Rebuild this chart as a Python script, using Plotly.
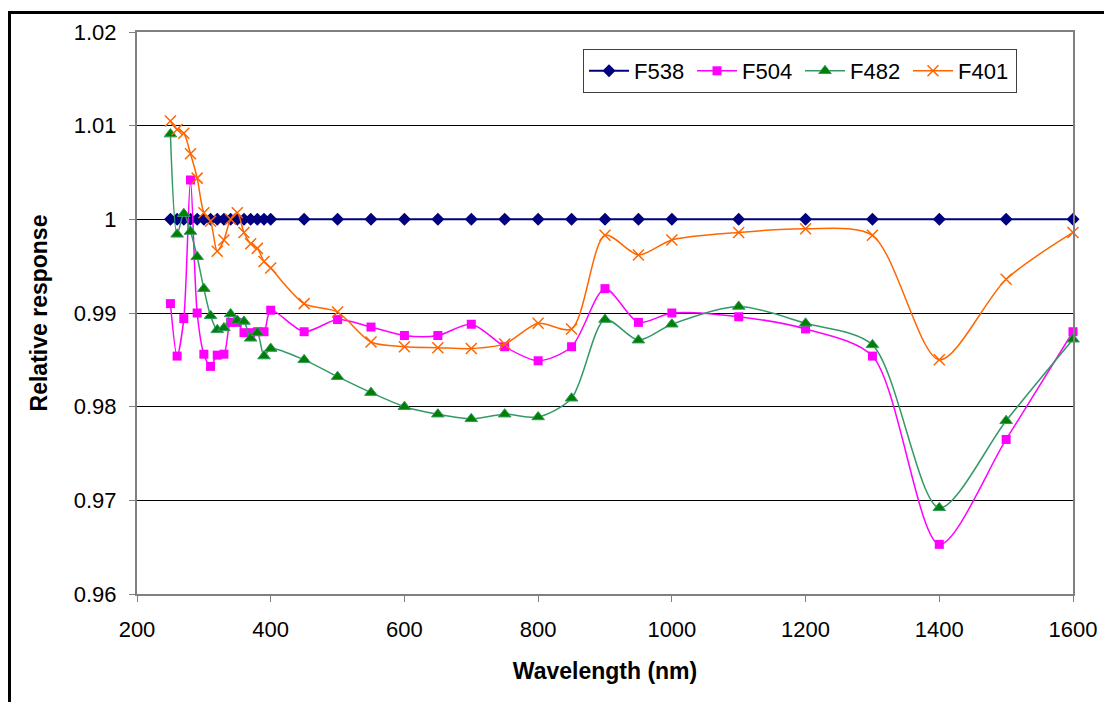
import plotly.graph_objects as go

wavelength = [250, 260, 270, 280, 290, 300, 310, 320, 330, 340, 350, 360, 370, 380, 390, 400,
              450, 500, 550, 600, 650, 700, 750, 800, 850, 900, 950, 1000,
              1100, 1200, 1300, 1400, 1500, 1600]

f538 = [1.0] * len(wavelength)

f504 = [0.9910, 0.9854, 0.9894, 1.0042, 0.9900, 0.9856, 0.9843, 0.9855, 0.9856, 0.9890, 0.9890,
        0.9879, 0.9879, 0.9880, 0.9880, 0.9903,
        0.9880, 0.9893, 0.9885, 0.9876, 0.9876, 0.9888, 0.9864, 0.9849, 0.9864, 0.9926, 0.9890, 0.9900,
        0.9896, 0.9883, 0.9854, 0.9653, 0.9765, 0.9880]

f482 = [1.0091, 0.9984, 1.0006, 0.9987, 0.9960, 0.9926, 0.9897, 0.9882, 0.9884, 0.9899, 0.9892,
        0.9891, 0.9873, 0.9879, 0.9854, 0.9862,
        0.9850, 0.9832, 0.9815, 0.9800, 0.9792, 0.9787, 0.9792, 0.9789, 0.9809, 0.9893, 0.9871, 0.9888,
        0.9907, 0.9889, 0.9866, 0.9692, 0.9785, 0.9872]

f401 = [1.0105, 1.0096, 1.0092, 1.0070, 1.0044, 1.0007, 0.9998, 0.9966, 0.9978, 1.0000, 1.0007,
        0.9986, 0.9974, 0.9969, 0.9955, 0.9948,
        0.9910, 0.9901, 0.9869, 0.9864, 0.9863, 0.9862, 0.9867, 0.9889, 0.9883, 0.9983, 0.9962, 0.9978,
        0.9986, 0.9990, 0.9983, 0.9850, 0.9936, 0.9986]

series_names = ["F538", "F504", "F482", "F401"]
x_ticks = [200, 400, 600, 800, 1000, 1200, 1400, 1600]
y_ticks = [0.96, 0.97, 0.98, 0.99, 1.0, 1.01, 1.02]
y_tick_text = ["0.96", "0.97", "0.98", "0.99", "1", "1.01", "1.02"]

FONT = "Liberation Sans, Arial, sans-serif"

fig = go.Figure()

fig.add_trace(go.Scatter(
    x=wavelength, y=f538, name=series_names[0], mode="lines+markers",
    line=dict(color="#000080", width=2),
    marker=dict(symbol="diamond", size=10, color="#000080"),
    cliponaxis=False))

fig.add_trace(go.Scatter(
    x=wavelength, y=f504, name=series_names[1], mode="lines+markers",
    line=dict(color="#FF00FF", width=1.5, shape="spline", smoothing=0.8),
    marker=dict(symbol="square", size=9, color="#FF00FF"),
    cliponaxis=False))

fig.add_trace(go.Scatter(
    x=wavelength, y=f482, name=series_names[2], mode="lines+markers",
    line=dict(color="#339966", width=1.5, shape="spline", smoothing=0.8),
    marker=dict(symbol="triangle-up", size=11, color="#008000",
                line=dict(color="#339966", width=1)),
    cliponaxis=False))

fig.add_trace(go.Scatter(
    x=wavelength, y=f401, name=series_names[3], mode="lines+markers",
    line=dict(color="#FF6600", width=1.5, shape="spline", smoothing=0.8),
    marker=dict(symbol="x-thin", size=11, color="#FF6600",
                line=dict(color="#FF6600", width=1.5)),
    cliponaxis=False))

# page body has an 8px offset
OFF = 8
W, H = 1104, 694
L, R, T, B = 137 - OFF, 39, 32 - OFF, 108
pw = W - L - R
ph = H - T - B

def px_x(px):  # page pixel -> paper x
    return (px - OFF - L) / pw

def px_y(py):  # page pixel -> paper y
    return (H - B - (py - OFF)) / ph

fig.update_layout(
    width=W, height=H, autosize=False,
    margin=dict(l=L, r=R, t=T, b=B, pad=0),
    paper_bgcolor="white", plot_bgcolor="white",
    font=dict(family=FONT, size=22, color="black"),
    showlegend=True,
    legend=dict(
        orientation="h", x=px_x(583), y=px_y(49),
        xanchor="left", yanchor="top",
        bgcolor="white", bordercolor="#404040", borderwidth=1,
        font=dict(family=FONT, size=22, color="black"),
        entrywidth=53, itemwidth=40,
        tracegroupgap=0,
    ),
    xaxis=dict(
        range=[200, 1600], tickvals=x_ticks, ticktext=[str(v) for v in x_ticks],
        showgrid=False, zeroline=False,
        showline=True, linecolor="#808080", linewidth=2, mirror=True,
        ticks="outside", ticklen=6, tickcolor="#808080", tickwidth=1,
        ticklabelstandoff=9,
        tickfont=dict(family=FONT, size=22),
        title=dict(text="<b>Wavelength (nm)</b>", font=dict(family=FONT, size=23), standoff=21),
    ),
    yaxis=dict(
        range=[0.96, 1.02], tickvals=y_ticks, ticktext=y_tick_text,
        showgrid=True, gridcolor="black", gridwidth=1, zeroline=False,
        showline=True, linecolor="#808080", linewidth=2, mirror=True,
        ticks="outside", ticklen=6, tickcolor="#808080", tickwidth=1,
        ticklabelstandoff=8,
        tickfont=dict(family=FONT, size=22),
        title=dict(text="<b>Relative response</b>", font=dict(family=FONT, size=23), standoff=20),
    ),
    shapes=[dict(
        type="rect", xref="paper", yref="paper",
        x0=px_x(9.5), x1=px_x(1140),
        y0=px_y(740), y1=px_y(12.5),
        line=dict(color="black", width=3), fillcolor="rgba(0,0,0,0)", layer="above",
    )],
)

fig.write_html("out.html")
